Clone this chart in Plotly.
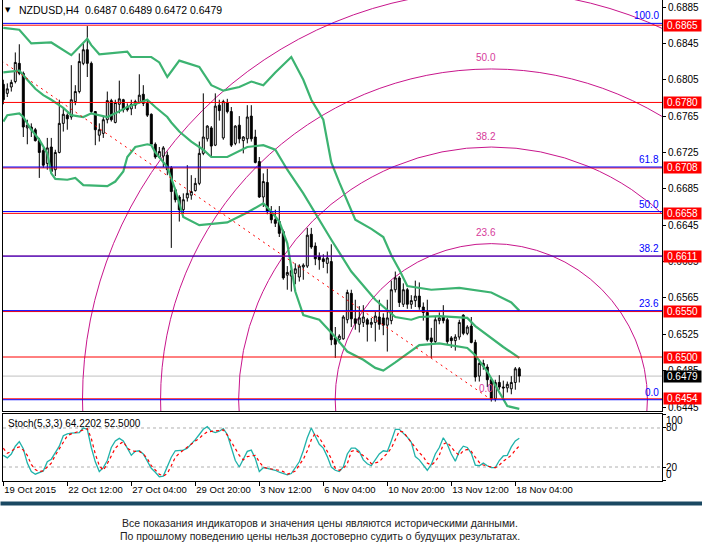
import math
import plotly.graph_objects as go

# ---------------- data ----------------
bars = list(range(130))
opens = [0.6800,0.6790,0.6797,0.6803,0.6823,0.6812,0.6752,0.6753,0.6750,0.6738,
         0.6727,0.6713,0.6731,0.6706,0.6725,0.6757,0.6766,0.6764,0.6781,0.6792,
         0.6823,0.6838,0.6823,0.6770,0.6744,0.6746,0.6761,0.6782,0.6758,0.6778,
         0.6783,0.6775,0.6773,0.6777,0.6780,0.6789,0.6779,0.6767,0.6734,0.6720,
         0.6721,0.6722,0.6708,0.6684,0.6676,0.6662,0.6675,0.6678,0.6683,0.6691,
         0.6724,0.6740,0.6752,0.6733,0.6777,0.6741,0.6780,0.6770,0.6735,0.6755,
         0.6738,0.6740,0.6765,0.6742,0.6715,0.6676,0.6692,0.6660,0.6651,0.6649,
         0.6638,0.6590,0.6589,0.6592,0.6588,0.6599,0.6600,0.6635,0.6622,0.6611,
         0.6608,0.6603,0.6605,0.6521,0.6519,0.6520,0.6541,0.6570,0.6542,0.6536,
         0.6538,0.6541,0.6536,0.6538,0.6544,0.6543,0.6535,0.6540,0.6574,0.6587,
         0.6558,0.6574,0.6558,0.6562,0.6567,0.6555,0.6549,0.6521,0.6517,0.6540,
         0.6544,0.6541,0.6521,0.6518,0.6522,0.6546,0.6526,0.6534,0.6516,0.6479,
         0.6493,0.6489,0.6475,0.6454,0.6472,0.6467,0.6466,0.6465,0.6472,0.6487]
highs = [0.6805,0.6801,0.6805,0.6835,0.6844,0.6814,0.6761,0.6757,0.6752,0.6741,
         0.6730,0.6741,0.6741,0.6728,0.6783,0.6775,0.6768,0.6821,0.6799,0.6834,
         0.6845,0.6864,0.6825,0.6770,0.6757,0.6764,0.6792,0.6784,0.6783,0.6804,
         0.6784,0.6779,0.6783,0.6783,0.6811,0.6799,0.6783,0.6768,0.6736,0.6731,
         0.6732,0.6726,0.6710,0.6686,0.6678,0.6680,0.6711,0.6700,0.6697,0.6737,
         0.6790,0.6755,0.6754,0.6790,0.6783,0.6783,0.6784,0.6775,0.6755,0.6765,
         0.6743,0.6777,0.6777,0.6750,0.6720,0.6702,0.6707,0.6666,0.6662,0.6666,
         0.6640,0.6600,0.6600,0.6603,0.6602,0.6603,0.6642,0.6642,0.6626,0.6615,
         0.6613,0.6616,0.6624,0.6533,0.6525,0.6546,0.6574,0.6574,0.6563,0.6556,
         0.6557,0.6543,0.6543,0.6550,0.6563,0.6548,0.6563,0.6584,0.6594,0.6589,
         0.6581,0.6576,0.6568,0.6584,0.6582,0.6560,0.6563,0.6532,0.6545,0.6549,
         0.6557,0.6543,0.6523,0.6525,0.6541,0.6547,0.6535,0.6544,0.6519,0.6497,
         0.6497,0.6492,0.6477,0.6475,0.6480,0.6474,0.6473,0.6479,0.6489,0.6489]
lows = [0.6778,0.6786,0.6792,0.6801,0.6810,0.6742,0.6734,0.6742,0.6737,0.6697,
        0.6708,0.6706,0.6702,0.6699,0.6724,0.6748,0.6750,0.6761,0.6777,0.6790,
        0.6821,0.6808,0.6768,0.6733,0.6737,0.6741,0.6757,0.6759,0.6757,0.6768,
        0.6769,0.6770,0.6766,0.6773,0.6779,0.6776,0.6764,0.6732,0.6718,0.6719,
        0.6709,0.6700,0.6620,0.6670,0.6649,0.6658,0.6671,0.6673,0.6682,0.6689,
        0.6722,0.6737,0.6720,0.6732,0.6760,0.6739,0.6768,0.6731,0.6733,0.6735,
        0.6724,0.6735,0.6737,0.6713,0.6675,0.6665,0.6657,0.6647,0.6643,0.6632,
        0.6585,0.6574,0.6572,0.6580,0.6583,0.6585,0.6598,0.6619,0.6601,0.6596,
        0.6598,0.6592,0.6513,0.6499,0.6515,0.6519,0.6537,0.6533,0.6530,0.6527,
        0.6533,0.6517,0.6532,0.6517,0.6530,0.6524,0.6506,0.6536,0.6571,0.6555,
        0.6555,0.6553,0.6553,0.6555,0.6552,0.6540,0.6517,0.6499,0.6515,0.6536,
        0.6537,0.6514,0.6510,0.6507,0.6519,0.6524,0.6524,0.6515,0.6473,0.6473,
        0.6486,0.6467,0.6451,0.6451,0.6464,0.6454,0.6461,0.6459,0.6464,0.6472]
closes = [0.6783,0.6795,0.6802,0.6824,0.6812,0.6753,0.6755,0.6750,0.6738,0.6725,
          0.6711,0.6730,0.6704,0.6725,0.6757,0.6767,0.6762,0.6783,0.6792,0.6825,
          0.6838,0.6823,0.6770,0.6750,0.6750,0.6761,0.6782,0.6761,0.6780,0.6784,
          0.6772,0.6772,0.6778,0.6781,0.6788,0.6779,0.6766,0.6734,0.6720,0.6726,
          0.6730,0.6706,0.6682,0.6673,0.6662,0.6673,0.6680,0.6682,0.6691,0.6724,
          0.6742,0.6754,0.6732,0.6776,0.6771,0.6781,0.6770,0.6733,0.6754,0.6740,
          0.6742,0.6764,0.6740,0.6714,0.6676,0.6693,0.6660,0.6651,0.6647,0.6636,
          0.6587,0.6593,0.6595,0.6597,0.6600,0.6601,0.6634,0.6621,0.6608,0.6607,
          0.6605,0.6609,0.6519,0.6514,0.6523,0.6544,0.6571,0.6542,0.6537,0.6543,
          0.6544,0.6536,0.6538,0.6545,0.6536,0.6535,0.6543,0.6574,0.6587,0.6560,
          0.6574,0.6558,0.6562,0.6567,0.6555,0.6549,0.6519,0.6517,0.6541,0.6543,
          0.6540,0.6517,0.6518,0.6522,0.6538,0.6526,0.6533,0.6516,0.6478,0.6493,
          0.6490,0.6475,0.6454,0.6472,0.6467,0.6466,0.6470,0.6472,0.6487,0.6479]

# Bollinger bands at sample bars
bb_up_x = [0,4,7,12,17,19,21,22,24,31,32,37,39,41,44,49,52,55,59,62,65,68,72,75,77,80,82,84,88,92,
           95,97,99,101,107,114,122,127,129]
bb_up = [0.6862,0.6860,0.6845,0.6846,0.6832,0.6841,0.6850,0.6843,0.6833,0.6836,
         0.6830,0.6830,0.6824,0.6808,0.6826,0.6819,0.6799,0.6793,0.6797,0.6803,
         0.6799,0.6813,0.6830,0.6805,0.6783,0.6761,0.6714,0.6692,0.6651,0.6641,
         0.6632,0.6612,0.6596,0.6578,0.6574,0.6576,0.6571,0.6560,0.6551]
bb_mid_x = [0,4,6,8,10,12,15,17,20,22,26,28,31,34,36,38,41,42,44,47,50,52,56,61,65,68,71,75,78,82,
            87,93,98,102,104,109,116,118,125,129]
bb_mid = [0.6813,0.6815,0.6805,0.6795,0.6788,0.6783,0.6774,0.6766,0.6764,0.6768,
          0.6764,0.6768,0.6775,0.6780,0.6783,0.6775,0.6764,0.6758,0.6748,0.6737,
          0.6728,0.6720,0.6720,0.6731,0.6733,0.6728,0.6706,0.6680,0.6658,0.6629,
          0.6594,0.6563,0.6544,0.6541,0.6544,0.6545,0.6543,0.6534,0.6511,0.6499]
bb_lo_x = [0,1,4,5,7,9,11,12,13,16,18,20,26,28,30,31,33,36,37,38,41,43,45,49,56,61,65,67,69,71,
           73,75,79,83,86,90,93,95,98,101,104,109,116,118,121,126,129]
bb_lo = [0.6759,0.6766,0.6768,0.6764,0.6750,0.6739,0.6724,0.6702,0.6696,0.6695,
         0.6697,0.6689,0.6688,0.6693,0.6704,0.6720,0.6731,0.6734,0.6733,0.6725,
         0.6709,0.6684,0.6654,0.6645,0.6648,0.6659,0.6669,0.6660,0.6649,0.6625,
         0.6572,0.6546,0.6541,0.6522,0.6506,0.6497,0.6488,0.6485,0.6494,0.6504,
         0.6513,0.6515,0.6510,0.6502,0.6484,0.6446,0.6443]

stoch_main = [38,34,40,52,59,48,26,13,9,11,
              14,28,32,42,52,68,71,72,72,73,
              80,78,50,28,13,19,30,50,60,64,
              60,48,38,44,45,40,30,18,12,5,
              6,20,35,45,45,46,49,55,62,70,
              78,82,75,73,75,79,70,50,30,20,
              33,44,46,33,13,19,18,17,15,12,
              10,8,10,20,28,45,65,80,67,55,
              49,36,20,15,13,20,40,49,49,44,
              31,25,22,31,40,45,44,60,78,78,
              72,66,58,36,31,22,15,24,40,50,
              65,55,40,29,44,52,50,41,23,22,
              26,22,19,19,30,37,38,51,60,64.2202]
stoch_signal = [49,41,44,49,51,46,38,24,16,13,
                14,20,26,38,48,60,68,71,73,74,
                76,79,64,40,22,15,25,38,49,55,
                59,49,45,44,44,40,33,22,15,9,
                6,10,22,35,41,46,50,55,60,64,
                70,74,75,75,76,77,69,58,49,38,
                31,36,37,38,28,20,18,17,17,15,
                13,9,11,14,23,32,45,62,72,65,
                55,44,33,18,15,18,25,44,46,42,
                38,33,25,26,28,35,41,49,62,75,
                74,66,58,49,42,36,26,23,28,38,
                55,58,50,43,38,45,47,44,35,27,
                23,21,20,19,23,29,33,38,46,52.5]

time_tick_bars = [0, 16, 32, 48, 64, 80, 96, 112, 128]
time_tick_labels = ["19 Oct 2015", "22 Oct 12:00", "27 Oct 04:00", "29 Oct 20:00", "3 Nov 12:00",
                    "6 Nov 04:00", "10 Nov 20:00", "13 Nov 12:00", "18 Nov 04:00"]
price_ticks = [0.6885, 0.6845, 0.6805, 0.6765, 0.6725, 0.6685, 0.6645, 0.6605, 0.6565, 0.6525, 0.6485, 0.6445]
price_tick_labels = ["0.6885", "0.6845", "0.6805", "0.6765", "0.6725", "0.6685", "0.6645", "0.6605",
                     "0.6565", "0.6525", "0.6485", "0.6445"]
hline_levels = [0.6865, 0.6780, 0.6708, 0.6658, 0.6611, 0.6550, 0.6500, 0.6454]
fibo_levels = [100.0, 61.8, 50.0, 38.2, 23.6, 0.0]
fibo_prices = [0.6867, 0.6709, 0.6660, 0.6611, 0.6551, 0.6453]
arc_levels = [0.0, 23.6, 38.2, 50.0, 61.8, 100.0]
fibo_p1 = (-14.0, 0.6867)
fibo_p2 = (122.0, 0.6453)
current_price = 0.6479
stoch_levels = [20, 80]
stoch_axis_labels = [(100, "100"), (80, "80"), (20, "20"), (0, "0")]
footer_lines = ["Все показания индикаторов и значения цены являются историческими данными.",
                "По прошлому поведению цены нельзя достоверно судить о будущих результатах."]

# ---------------- layout geometry ----------------
W, H = 702, 552
PLOT_L, PLOT_R, PLOT_T, PLOT_B = 3, 662, 0, 481
MAIN_BOTTOM_PX, STOCH_TOP_PX = 411, 414
XMIN, XMAX = -0.075, 164.675
YMIN, YMAX = 0.64406, 0.68927
plot_w = PLOT_R - PLOT_L
plot_h = PLOT_B - PLOT_T
main_domain = [(PLOT_B - MAIN_BOTTOM_PX) / plot_h, 1.0]
stoch_domain = [0.0, (PLOT_B - STOCH_TOP_PX) / plot_h]


def pxx(px):
    return (px - PLOT_L) / plot_w


def pxy(py):
    return (PLOT_B - py) / plot_h


FONT = "Liberation Sans, Arial, sans-serif"
GREEN = "#3cb371"
MAGENTA = "#c8168c"

fig = go.Figure()
fig.add_trace(go.Candlestick(
    x=bars, open=opens, high=highs, low=lows, close=closes,
    increasing=dict(line=dict(color="black", width=1), fillcolor="white"),
    decreasing=dict(line=dict(color="black", width=1), fillcolor="black"),
    whiskerwidth=0, hoverinfo="skip", showlegend=False, xaxis="x", yaxis="y"))
for bx, by in [(bb_up_x, bb_up), (bb_mid_x, bb_mid), (bb_lo_x, bb_lo)]:
    fig.add_trace(go.Scatter(x=bx, y=by, mode="lines", line=dict(color=GREEN, width=2.2),
                             hoverinfo="skip", showlegend=False, xaxis="x", yaxis="y"))
fig.add_trace(go.Scatter(x=bars, y=stoch_main, mode="lines", line=dict(color="#20b2aa", width=1.3),
                         hoverinfo="skip", showlegend=False, xaxis="x2", yaxis="y2"))
fig.add_trace(go.Scatter(x=bars, y=stoch_signal, mode="lines",
                         line=dict(color="#ff0000", width=1.2, dash="3px,3px"),
                         hoverinfo="skip", showlegend=False, xaxis="x2", yaxis="y2"))

# fibo arc radius = pixel distance between its two anchor points
main_h_px = MAIN_BOTTOM_PX - PLOT_T
px_per_bar = plot_w / (XMAX - XMIN)
px_per_price = main_h_px / (YMAX - YMIN)
R = math.hypot((fibo_p2[0] - fibo_p1[0]) * px_per_bar, (fibo_p1[1] - fibo_p2[1]) * px_per_price)
center_py = PLOT_T + (YMAX - fibo_p2[1]) * px_per_price

shapes = []
for lv in arc_levels:
    r = R * lv / 100.0
    if r <= 0:
        continue
    shapes.append(dict(type="circle", xref="x", yref="y", xsizemode="pixel", ysizemode="pixel",
                       xanchor=fibo_p2[0], yanchor=fibo_p2[1], x0=-r, x1=r, y0=-r, y1=r,
                       line=dict(color=MAGENTA, width=1), layer="below"))
# hide lower half of the arcs
shapes.append(dict(type="rect", xref="paper", yref="y", x0=0, x1=1, y0=YMIN, y1=fibo_p2[1],
                   fillcolor="white", line=dict(width=0), layer="below"))
# current price line
shapes.append(dict(type="line", xref="paper", yref="y", x0=0, x1=1, y0=current_price, y1=current_price,
                   line=dict(color="#c0c0c0", width=1), layer="below"))
for lv in hline_levels:
    shapes.append(dict(type="line", xref="paper", yref="y", x0=0, x1=1, y0=lv, y1=lv,
                       line=dict(color="#ff0000", width=1), layer="above"))
for pr in fibo_prices:
    shapes.append(dict(type="line", xref="paper", yref="y", x0=0, x1=1, y0=pr, y1=pr,
                       line=dict(color="#0000ff", width=1), layer="above"))
shapes.append(dict(type="line", xref="x", yref="y", x0=fibo_p1[0], y0=fibo_p1[1], x1=fibo_p2[0], y1=fibo_p2[1],
                   line=dict(color="#ff0000", width=1, dash="2px,4px"), layer="above"))
for lv in stoch_levels:
    shapes.append(dict(type="line", xref="paper", yref="y2", x0=0, x1=1, y0=lv, y1=lv,
                       line=dict(color="#b0b0b0", width=1, dash="3px,3px"), layer="below"))

ann = []
for lv in hline_levels:
    ann.append(dict(x=1, xref="paper", xanchor="left", xshift=1, y=lv, yref="y", yanchor="middle",
                    text=f"{lv:.4f}", showarrow=False, bgcolor="#ff0000", width=37, height=11, borderpad=0,
                    font=dict(family=FONT, size=10, color="white")))
ann.append(dict(x=1, xref="paper", xanchor="left", xshift=1, y=current_price, yref="y", yanchor="middle",
                text=f"{current_price:.4f}", showarrow=False, bgcolor="#000000", width=37, height=11,
                borderpad=0, font=dict(family=FONT, size=10, color="white")))
for lvl, pr in zip(fibo_levels, fibo_prices):
    ann.append(dict(x=1, xref="paper", xanchor="right", xshift=-1, y=pr, yref="y", yanchor="bottom",
                    text=f"{lvl:.1f}", showarrow=False, font=dict(family=FONT, size=10, color="#0000ff")))
for lv in arc_levels:
    r = R * lv / 100.0
    if center_py - r - 11 < 6:   # label would fall above the chart window
        continue
    ann.append(dict(x=fibo_p2[0], xref="x", y=fibo_p2[1], yref="y", xanchor="center", yanchor="middle",
                    xshift=-5, yshift=r + 11, text=f"{lv:.1f}", showarrow=False,
                    font=dict(family=FONT, size=10, color="#d63a9a")))
ann.append(dict(x=pxx(8), xref="paper", y=pxy(10), yref="paper", xanchor="center", yanchor="middle",
                text="▼", showarrow=False, font=dict(family="DejaVu Sans", size=7, color="black")))
header = f"NZDUSD,H4  {opens[-1]:.4f} {highs[-1]:.4f} {lows[-1]:.4f} {closes[-1]:.4f}"
ann.append(dict(x=pxx(17), xref="paper", y=pxy(10), yref="paper", xanchor="left", yanchor="middle",
                text=header, showarrow=False, font=dict(family=FONT, size=10.5, color="black")))
stoch_txt = f"Stoch(5,3,3) {stoch_main[-1]:.4f} {stoch_signal[-1]:.4f}"
ann.append(dict(x=pxx(6), xref="paper", y=pxy(423), yref="paper", xanchor="left", yanchor="middle",
                text=stoch_txt, showarrow=False, font=dict(family=FONT, size=10, color="black")))
for val, txt in stoch_axis_labels:
    shift = -6 if val == 100 else (6 if val == 0 else 0)
    ann.append(dict(x=1, xref="paper", xanchor="left", xshift=2, y=val, yref="y2", yanchor="middle",
                    yshift=shift, text=txt, showarrow=False, font=dict(family=FONT, size=10, color="black")))
# footer band (drawn as a filled text box spanning the page)
ann.append(dict(x=pxx(0), xref="paper", y=pxy(501), yref="paper", xanchor="left", yanchor="top",
                text=" ", showarrow=False, bgcolor="#1a4862", width=W, height=3, borderpad=0,
                font=dict(size=1)))
foot_font = dict(family="Liberation Sans, Arial, sans-serif", size=10.5, color="#222222")
for py, line in zip([523, 536], footer_lines):
    ann.append(dict(x=pxx(320), xref="paper", y=pxy(py), yref="paper", xanchor="center", yanchor="middle",
                    text=line, showarrow=False, font=foot_font))

fig.update_layout(
    width=W, height=H, margin=dict(l=PLOT_L, r=W - PLOT_R, t=PLOT_T, b=H - PLOT_B, pad=0),
    paper_bgcolor="white", plot_bgcolor="white", showlegend=False,
    font=dict(family=FONT, size=10, color="black"),
    xaxis=dict(domain=[0, 1], range=[XMIN, XMAX], anchor="y", showticklabels=False, ticks="",
               showgrid=False, zeroline=False, showline=True, linecolor="black", linewidth=1,
               rangeslider=dict(visible=False), fixedrange=True),
    yaxis=dict(domain=main_domain, range=[YMIN, YMAX], anchor="x", side="right",
               tickvals=price_ticks, ticktext=price_tick_labels, ticks="outside", ticklen=3,
               tickcolor="black", showline=True, mirror=True, linecolor="black", linewidth=1,
               showgrid=False, zeroline=False, tickfont=dict(family=FONT, size=10, color="black"),
               fixedrange=True),
    xaxis2=dict(domain=[0, 1], range=[XMIN, XMAX], anchor="y2", matches="x",
                tickvals=time_tick_bars, ticktext=time_tick_labels, ticks="outside", ticklen=4,
                tickcolor="black", ticklabelposition="outside right", tickangle=0, showline=True, mirror=True,
                linecolor="black", linewidth=1, showgrid=False, zeroline=False,
                tickfont=dict(family=FONT, size=9.5, color="black"), fixedrange=True),
    yaxis2=dict(domain=stoch_domain, range=[-1.5, 101.5], anchor="x2", side="right",
                tickvals=[0, 20, 80, 100], showticklabels=False, ticks="outside", ticklen=3,
                tickcolor="black", showline=True, mirror=True, linecolor="black", linewidth=1,
                showgrid=False, zeroline=False, fixedrange=True),
    shapes=shapes, annotations=ann,
)

fig.write_html("out.html", config={"displayModeBar": False},
               post_script="document.body.style.margin='0';document.body.style.overflow='hidden';")
